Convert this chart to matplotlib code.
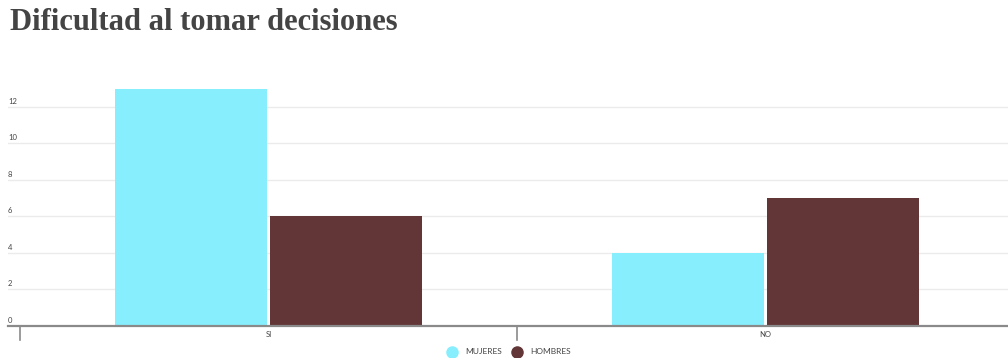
import matplotlib
matplotlib.use("Agg")
import matplotlib.pyplot as plt
import matplotlib.transforms as mtransforms
from matplotlib.lines import Line2D
import numpy as np

title = "Dificultad al tomar decisiones"
categories = ["SI", "NO"]
series_names = ["MUJERES", "HOMBRES"]
mujeres = [13, 4]
hombres = [6, 7]
yticks = [0, 2, 4, 6, 8, 10, 12]
colors = ["#87EEFD", "#623536"]

W, H = 1008, 358
fig = plt.figure(figsize=(W / 100, H / 100), dpi=100)
fig.patch.set_facecolor("white")

ax_left, ax_right = 8, 1008
ax_bottom, ax_top = 326, 79.6
ax = fig.add_axes([ax_left / W, 1 - ax_bottom / H, (ax_right - ax_left) / W, (ax_bottom - ax_top) / H])
ax.set_facecolor("none")

x = np.arange(len(categories))
bw = 0.306
gap = 0.003
ax.bar(x - bw / 2 - gap, mujeres, width=bw, color=colors[0], zorder=3)
ax.bar(x + bw / 2 + gap, hombres, width=bw, color=colors[1], zorder=3)

ax.set_xlim(-0.524, 1.488)
ax.set_ylim(0, 13.5)

for s in ["top", "right", "left"]:
    ax.spines[s].set_visible(False)
ax.spines["bottom"].set_color("#8a8a8a")
ax.spines["bottom"].set_linewidth(1.6)
ax.spines["bottom"].set_zorder(4)

ax.set_yticks([])
ax.set_xticks([])
for t in yticks:
    if t > 0:
        ax.axhline(t, color="#ebebeb", linewidth=1.0, zorder=1)

trans = mtransforms.blended_transform_factory(ax.transAxes, ax.transData)
for t in yticks:
    ax.text(0.0, t + 0.12, str(t), transform=trans, ha="left", va="bottom",
            fontsize=5.5, color="#444444", family="Lato", zorder=5)

# category boundary ticks
for b in [-0.5, 0.5]:
    ax.add_line(Line2D([b, b], [0, -14 / 18.25], color="#8a8a8a", linewidth=1.2, clip_on=False, zorder=4))

for xi, c in zip(x, categories):
    ax.text(xi, -8 / 18.25, c, ha="center", va="center", fontsize=5.5, color="#444444", family="Lato")

fig.text(10 / W, 1 - 22 / H, title, ha="left", va="center", fontsize=22,
         fontweight="bold", family="Liberation Serif", color="#444444")

# legend
ly = 1 - 352 / H
for px, col, name in [(452, colors[0], series_names[0]), (517, colors[1], series_names[1])]:
    fig.add_artist(Line2D([px / W], [ly], marker="o", markersize=8, color=col,
                          linestyle="none", transform=fig.transFigure))
    fig.text((px + 13) / W, ly, name, ha="left", va="center", fontsize=6,
             color="#444444", family="Lato")

fig.savefig("out.png", dpi=100, facecolor="white")
